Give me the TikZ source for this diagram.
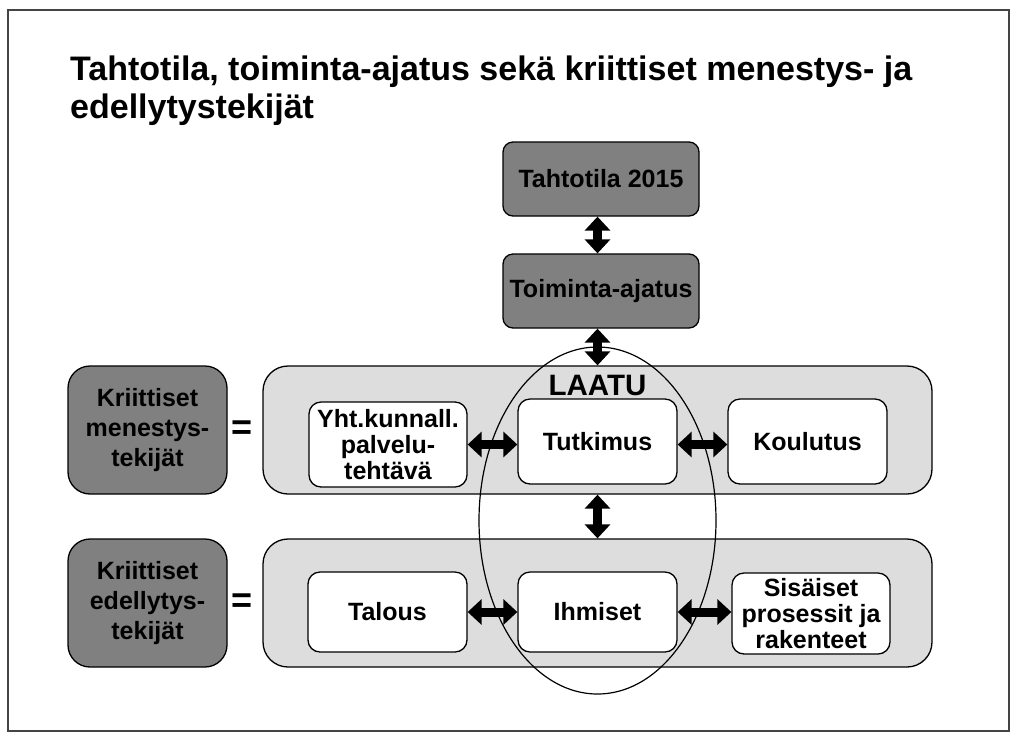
\documentclass[tikz,border=0pt]{standalone}
\usepackage{fontspec}
\setmainfont{Liberation Sans}
\usetikzlibrary{arrows.meta,calc}
\definecolor{dkgray}{HTML}{808080}
\definecolor{ltgray}{HTML}{DDDDDD}
\definecolor{framecol}{HTML}{444444}
\begin{document}
\begin{tikzpicture}[x=1pt,y=-1pt,
  darkbox/.style={draw=black, line width=1.3pt, fill=dkgray, align=center,
    font=\fontsize{25}{30}\selectfont\bfseries, inner sep=0pt},
  whitebox/.style={draw=black, line width=1.3pt, fill=white, align=center,
    rounded corners=12pt, minimum width=158pt,
    font=\fontsize{25}{26}\selectfont\bfseries, inner sep=0pt},
  band/.style={draw=black, line width=1.3pt, fill=ltgray, rounded corners=25pt,
    minimum width=669pt, minimum height=128pt, inner sep=0pt},
  dbl/.style={line width=9pt, {Triangle[width=25pt,length=14pt]}-{Triangle[width=25pt,length=14pt]}},
  eqsign/.style={font=\fontsize{36}{36}\selectfont\bfseries, inner sep=0pt}
]
\useasboundingbox (0,0) rectangle (1024,740);
\draw[framecol, line width=1.5pt] (8,10) rectangle (1009,731);

\node[anchor=base west, align=left, inner sep=0pt,
  font=\fontsize{34}{38}\selectfont\bfseries] (title) at (70,118)
  {Tahtotila, toiminta-ajatus sekä kriittiset menestys- ja\\edellytystekijät};

\node[band] (band1) at (597.5,430) {};
\node[band] (band2) at (597.5,603) {};

\draw[line width=1.2pt] (597.5,520.5) ellipse [x radius=118.5pt, y radius=173.5pt];

\node[darkbox, rounded corners=10pt, minimum width=196pt, minimum height=74pt] (tah) at (601,179) {Tahtotila 2015};
\node[darkbox, rounded corners=10pt, minimum width=196pt, minimum height=74pt] (toi) at (601,291) {Toiminta-ajatus};

\node[darkbox, rounded corners=22pt, minimum width=159pt, minimum height=128pt] (k1) at (147.5,430) {Kriittiset\\menestys-\\tekijät};
\node[darkbox, rounded corners=22pt, minimum width=159pt, minimum height=128pt] (k2) at (147.5,603) {Kriittiset\\edellytys-\\tekijät};

\node[eqsign] (eq1) at (242,430) {=};
\node[eqsign] (eq2) at (242,603) {=};

\node[anchor=base, inner sep=0pt, font=\fontsize{29.5}{29.5}\selectfont\bfseries] (laatu) at (597.5,395) {LAATU};

\node[whitebox, minimum height=85pt] (yht) at (388,444.5) {Yht.kunnall.\\palvelu-\\tehtävä};
\node[whitebox, minimum width=159pt, minimum height=85pt] (tut) at (597.5,441.5) {Tutkimus};
\node[whitebox, minimum width=159pt, minimum height=85pt] (kou) at (807.5,441.5) {Koulutus};

\node[whitebox, minimum width=159pt, minimum height=80pt] (tal) at (387.5,612) {Talous};
\node[whitebox, minimum width=159pt, minimum height=80pt] (ihm) at (597.5,612) {Ihmiset};
\node[whitebox, minimum height=81pt] (sis) at (811,613.5) {Sisäiset\\prosessit ja\\rakenteet};

\draw[dbl] (tah.south -| band1.north) -- (toi.north -| band1.north);
\draw[dbl] (toi.south -| band1.north) -- (band1.north);
\draw[dbl] (yht.east) -- (yht.east -| tut.west);
\draw[dbl] (tut.east |- yht.east) -- (kou.west |- yht.east);
\draw[dbl] (band1.south) -- (band2.north);
\draw[dbl] (tal.east) -- (ihm.west);
\draw[dbl] (ihm.east) -- (sis.west |- ihm.east);
\end{tikzpicture}
\end{document}
